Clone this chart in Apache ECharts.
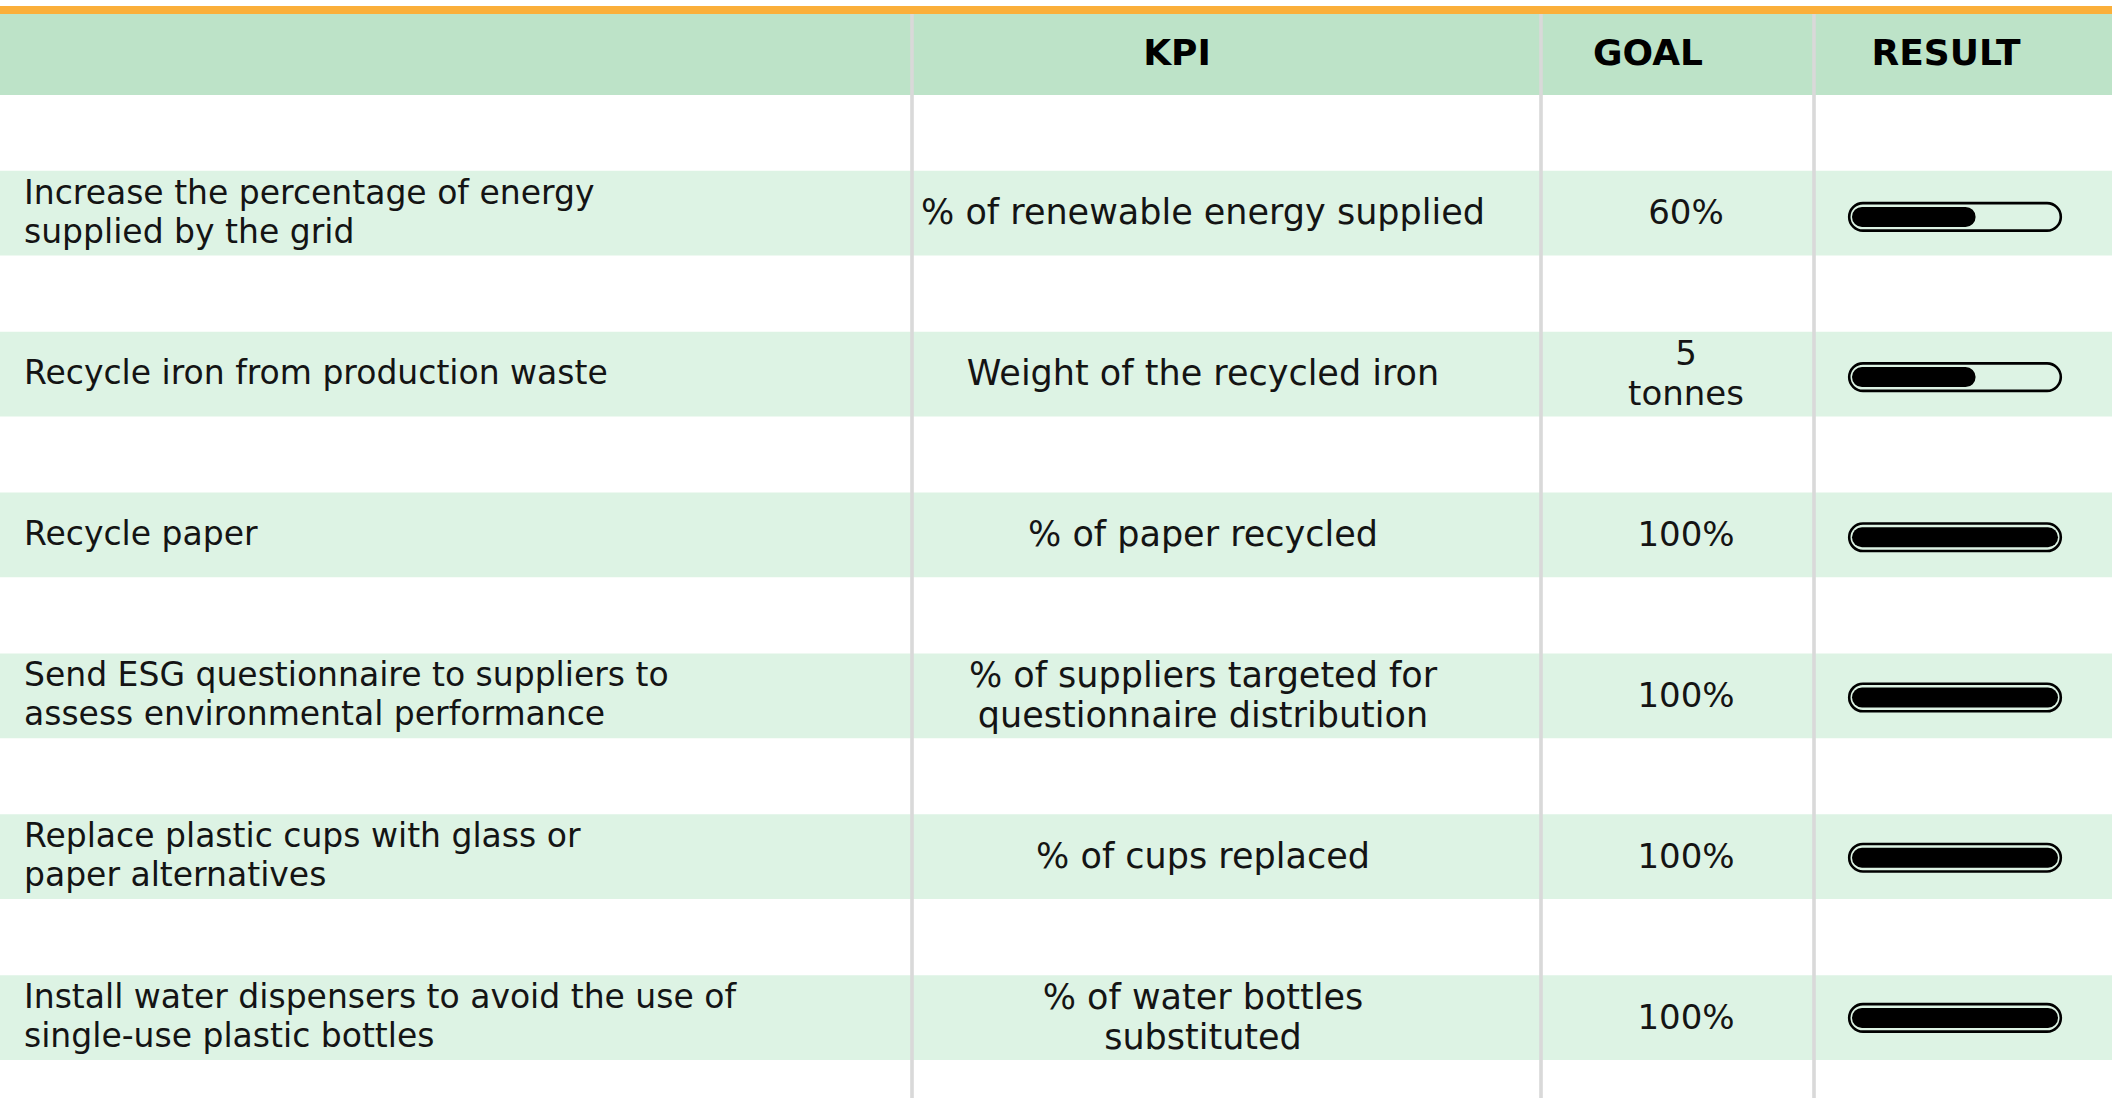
<!DOCTYPE html>
<html>
<head>
<meta charset="utf-8">
<script src="https://cdn.jsdelivr.net/npm/echarts@6/dist/echarts.min.js"></script>
<style>
html,body{margin:0;padding:0;background:#ffffff;}
#c{width:2112px;height:1098px;}
</style>
</head>
<body>
<div id="c"></div>
<script>
// ---- data ----
var headers = ['', 'KPI', 'GOAL', 'RESULT'];
var objectives = [
  'Increase the percentage of energy\nsupplied by the grid',
  'Recycle iron from production waste',
  'Recycle paper',
  'Send ESG questionnaire to suppliers to\nassess environmental performance',
  'Replace plastic cups with glass or\npaper alternatives',
  'Install water dispensers to avoid the use of\nsingle-use plastic bottles'
];
var kpis = [
  '% of renewable energy supplied',
  'Weight of the recycled iron',
  '% of paper recycled',
  '% of suppliers targeted for\nquestionnaire distribution',
  '% of cups replaced',
  '% of water bottles\nsubstituted'
];
var goals = ['60%', '5\ntonnes', '100%', '100%', '100%', '100%'];
var results = [60, 60, 100, 100, 100, 100];
var rowIds = objectives.map(function (_, i) { return 'row' + (i + 1); });

// ---- layout ----
var W = 2112, H = 1098;
var FONT = '"DejaVu Sans", sans-serif';
var TEXT = '#141414';
var BAND = '#DDF3E4';
var HEAD = '#BDE3C8';
var ORANGE = '#FBAF3A';
var DIV = '#D9D9D9';
var dividers = [912, 1541, 1814];
var headerX = [0, 1177, 1648, 1946];
var rowTop = 132.8, rowPitch = 161.4, bandH = 85;
var kpiX = 1203, goalX = 1686;

var chart = echarts.init(document.getElementById('c'), null, {renderer: 'svg', width: W, height: H});

function tableItem(params, api) {
  var i = api.value(1);
  var c = api.coord([0, i]);
  var slot = api.size([0, 1])[1];
  var bh = slot * bandH / rowPitch;
  var cy = c[1];
  return {
    type: 'group',
    children: [
      {type: 'rect', shape: {x: 0, y: cy - bh / 2, width: W, height: bh}, style: {fill: BAND}},
      {type: 'text', style: {text: objectives[i], x: 24, y: cy - 1.5, align: 'left', verticalAlign: 'middle',
        font: '33px ' + FONT, lineHeight: 39, fill: TEXT}},
      {type: 'text', style: {text: kpis[i], x: kpiX, y: cy - 1, align: 'center', verticalAlign: 'middle',
        font: '35px ' + FONT, lineHeight: 40, fill: TEXT}},
      {type: 'text', style: {text: goals[i], x: goalX, y: cy - 1, align: 'center', verticalAlign: 'middle',
        font: '34px ' + FONT, lineHeight: 40, fill: TEXT}}
    ]
  };
}

function outlineItem(params, api) {
  var i = api.value(1);
  var p0 = api.coord([0, i]);
  var p1 = api.coord([100, i]);
  var h = 27.5, pad = 2.8;
  return {
    type: 'rect',
    shape: {x: p0[0] - pad, y: p0[1] - h / 2, width: p1[0] - p0[0] + 2 * pad, height: h, r: h / 2},
    style: {fill: 'none', stroke: '#000', lineWidth: 2.6}
  };
}

var graphics = [
  {type: 'rect', shape: {x: 0, y: 6, width: W, height: 8}, style: {fill: ORANGE}, z: 50},
  {type: 'rect', shape: {x: 0, y: 14, width: W, height: 81}, style: {fill: HEAD}, z: 50}
];
headers.forEach(function (h, k) {
  if (!h) return;
  graphics.push({type: 'text', z: 60, style: {text: h, x: headerX[k], y: 52, align: 'center', verticalAlign: 'middle',
    font: 'bold 36px ' + FONT, fill: '#000'}});
});
dividers.forEach(function (x) {
  graphics.push({type: 'rect', z: 100, shape: {x: x - 1.8, y: 14, width: 3.6, height: H - 14}, style: {fill: DIV}});
});

chart.setOption({
  backgroundColor: '#ffffff',
  animation: false,
  grid: [
    {left: 0, top: rowTop, width: W, height: rowPitch * 6},
    {left: 1852, top: rowTop + 4, width: 206, height: rowPitch * 6}
  ],
  xAxis: [
    {gridIndex: 0, type: 'value', min: 0, max: 1, show: false},
    {gridIndex: 1, type: 'value', min: 0, max: 100, show: false}
  ],
  yAxis: [
    {gridIndex: 0, type: 'category', data: rowIds, inverse: true, show: false},
    {gridIndex: 1, type: 'category', data: rowIds, inverse: true, show: false}
  ],
  series: [
    {type: 'custom', xAxisIndex: 0, yAxisIndex: 0, z: 1, silent: true,
      data: objectives.map(function (_, i) { return [0, i]; }), encode: {x: 0, y: 1}, renderItem: tableItem},
    {type: 'custom', xAxisIndex: 1, yAxisIndex: 1, z: 3, silent: true,
      data: results.map(function (v, i) { return [v, i]; }), encode: {x: 0, y: 1}, renderItem: outlineItem},
    {type: 'bar', xAxisIndex: 1, yAxisIndex: 1, z: 4, silent: true, data: results, barWidth: 20,
      itemStyle: {color: '#000', borderRadius: 10}}
  ],
  graphic: graphics
});
</script>
</body>
</html>
